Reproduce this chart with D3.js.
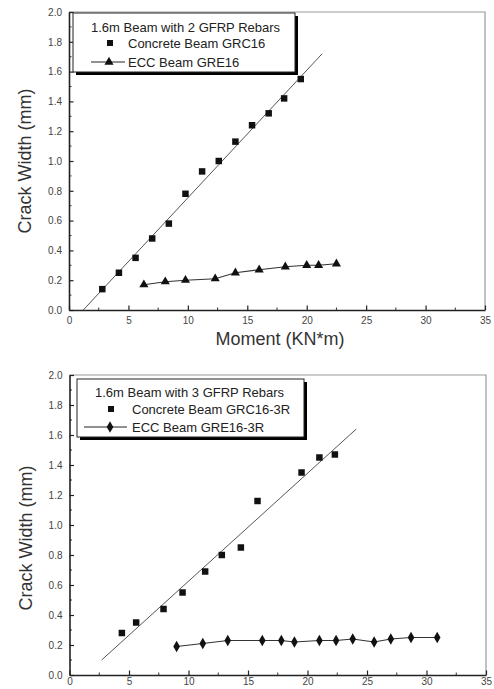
<!DOCTYPE html>
<html><head><meta charset="utf-8">
<script src="https://cdn.jsdelivr.net/npm/d3@7"></script>
<style>
html,body{margin:0;padding:0;background:#fff;}
svg{display:block;font-family:"Liberation Sans",Arial,Helvetica,sans-serif;}
</style></head>
<body>
<script>
// ---- data ----
const xTickValues = [0,5,10,15,20,25,30,35];
const yTickValues = [0.0,0.2,0.4,0.6,0.8,1.0,1.2,1.4,1.6,1.8,2.0];
const xLabel = "Moment (KN*m)";
const yLabel = "Crack Width (mm)";

const topTitle = "1.6m Beam with 2 GFRP Rebars";
const topConcreteName = "Concrete Beam GRC16";
const topEccName = "ECC Beam GRE16";
const topConcreteX = [2.8,4.2,5.6,7.0,8.4,9.8,11.2,12.6,14.0,15.4,16.8,18.1,19.5];
const topConcreteY = [0.14,0.25,0.35,0.48,0.58,0.78,0.93,1.00,1.13,1.24,1.32,1.42,1.55];
const topEccX = [6.3,8.1,9.8,12.3,14.0,16.0,18.2,20.0,21.0,22.5];
const topEccY = [0.17,0.19,0.20,0.21,0.25,0.27,0.29,0.30,0.30,0.31];
const topFitX = [1.2,21.3];
const topFitY = [0.0,1.72];

const botTitle = "1.6m Beam with 3 GFRP Rebars";
const botConcreteName = "Concrete Beam GRC16-3R";
const botEccName = "ECC Beam GRE16-3R";
const botConcreteX = [4.4,5.6,7.9,9.5,11.4,12.8,14.4,15.8,19.5,21.0,22.3];
const botConcreteY = [0.28,0.35,0.44,0.55,0.69,0.80,0.85,1.16,1.35,1.45,1.47];
const botEccX = [9.0,11.2,13.3,16.2,17.8,18.9,21.0,22.4,23.8,25.6,27.0,28.7,30.9];
const botEccY = [0.19,0.21,0.23,0.23,0.23,0.22,0.23,0.23,0.24,0.22,0.24,0.25,0.25];
const botFitX = [2.7,24.1];
const botFitY = [0.10,1.64];

// ---- drawing ----
const W = 494, H = 689;
const svg = d3.select("body").append("svg").attr("width", W).attr("height", H);

function panel(o) {
  const x = d3.scaleLinear().domain([0,35]).range([o.left, o.right]);
  const y = d3.scaleLinear().domain([0,2]).range([o.bottom, o.top]);
  const g = svg.append("g");

  // frame top/right (light)
  g.append("path")
    .attr("d", `M${o.left},${o.top}H${o.right}V${o.bottom}`)
    .attr("fill","none").attr("stroke","#9a9a9a").attr("stroke-width",1.2);

  // minor ticks
  const xMinor = d3.range(2.5, 35, 5);
  const yMinor = d3.range(0.1, 2.0, 0.2);
  g.selectAll(".xm").data(xMinor).join("line")
    .attr("x1", d=>x(d)).attr("x2", d=>x(d))
    .attr("y1", o.bottom).attr("y2", o.bottom-2.5)
    .attr("stroke","#333").attr("stroke-width",1);
  g.selectAll(".ym").data(yMinor).join("line")
    .attr("x1", o.left).attr("x2", o.left+2.5)
    .attr("y1", d=>y(d)).attr("y2", d=>y(d))
    .attr("stroke","#333").attr("stroke-width",1);

  const xa = g.append("g").attr("transform",`translate(0,${o.bottom})`)
    .call(d3.axisBottom(x).tickValues(xTickValues).tickSize(-4.5).tickPadding(o.xPad).tickSizeOuter(0).tickFormat(d3.format("d")));
  const ya = g.append("g").attr("transform",`translate(${o.left},0)`)
    .call(d3.axisLeft(y).tickValues(yTickValues).tickSize(-4.5).tickPadding(7).tickSizeOuter(0).tickFormat(d3.format(".1f")));
  [xa, ya].forEach(a => {
    a.select(".domain").attr("stroke","#222").attr("stroke-width",1.6);
    a.selectAll(".tick line").attr("stroke","#222").attr("stroke-width",1.2);
    a.selectAll(".tick text").attr("fill","#444").style("font-size","10px");
  });

  // y label
  g.append("text")
    .attr("transform",`translate(${o.yLabelX},${o.yLabelY}) rotate(-90)`)
    .attr("text-anchor","middle").attr("fill","#333")
    .style("font-size","18px").text(yLabel);
  if (o.showXLabel) {
    g.append("text").attr("x", (o.left+o.right)/2 + 3).attr("y", o.bottom + 35)
      .attr("text-anchor","middle").attr("fill","#333")
      .style("font-size","18px").text(xLabel);
  }

  // fit line
  g.append("line")
    .attr("x1", x(o.fitX[0])).attr("y1", y(o.fitY[0]))
    .attr("x2", x(o.fitX[1])).attr("y2", y(o.fitY[1]))
    .attr("stroke","#555").attr("stroke-width",1);

  // ECC line
  const eccPts = o.eccX.map((v,i)=>[v, o.eccY[i]]);
  g.append("path").datum(eccPts)
    .attr("d", d3.line().x(d=>x(d[0])).y(d=>y(d[1])))
    .attr("fill","none").attr("stroke","#333").attr("stroke-width",1.1);
  g.selectAll(".ecc").data(eccPts).join("path")
    .attr("transform", d=>`translate(${x(d[0])},${y(d[1])})`)
    .attr("d", d3.symbol().type(o.eccSymbol).size(o.eccSize))
    .attr("fill","#111");

  // concrete squares
  const cPts = o.cX.map((v,i)=>[v, o.cY[i]]);
  g.selectAll(".conc").data(cPts).join("path")
    .attr("transform", d=>`translate(${x(d[0])},${y(d[1])})`)
    .attr("d", d3.symbol().type(d3.symbolSquare).size(42))
    .attr("fill","#111");

  // legend
  const L = o.legend;
  g.append("rect").attr("x", L.x+3).attr("y", L.y+3).attr("width", L.w).attr("height", L.h).attr("fill","#000");
  g.append("rect").attr("x", L.x).attr("y", L.y).attr("width", L.w).attr("height", L.h)
    .attr("fill","#fff").attr("stroke","#222").attr("stroke-width",1);
  g.append("text").attr("x", L.x+L.titleDx).attr("y", L.y+L.r1).attr("fill","#222")
    .style("font-size","13px").text(o.title);
  g.append("path")
    .attr("transform", `translate(${L.x+L.symDx},${L.y+L.r2-4.5})`)
    .attr("d", d3.symbol().type(d3.symbolSquare).size(36)).attr("fill","#111");
  g.append("text").attr("x", L.x+L.textDx).attr("y", L.y+L.r2).attr("fill","#222")
    .style("font-size","13px").text(o.cName);
  g.append("line").attr("x1", L.x+L.lineX1).attr("x2", L.x+L.lineX2)
    .attr("y1", L.y+L.r3-4.5).attr("y2", L.y+L.r3-4.5).attr("stroke","#222").attr("stroke-width",1);
  g.append("path")
    .attr("transform", `translate(${L.x+L.symDx-1},${L.y+L.r3-4.5})`)
    .attr("d", d3.symbol().type(o.eccSymbol).size(o.eccSize)).attr("fill","#111");
  g.append("text").attr("x", L.x+L.textDx).attr("y", L.y+L.r3).attr("fill","#222")
    .style("font-size","13px").text(o.eName);
}

panel({
  left:69, right:485, top:12, bottom:310, xPad:7,
  yLabelX:31, yLabelY:161, showXLabel:true,
  fitX:topFitX, fitY:topFitY, eccX:topEccX, eccY:topEccY,
  cX:topConcreteX, cY:topConcreteY,
  eccSymbol:d3.symbolTriangle, eccSize:36,
  title:topTitle, cName:topConcreteName, eName:topEccName,
  legend:{x:73, y:13, w:222, h:59, r1:18.5, r2:34.5, r3:53.5, titleDx:18, symDx:37, textDx:55, lineX1:18, lineX2:52}
});

panel({
  left:69.5, right:486, top:375, bottom:675, xPad:3,
  yLabelX:32, yLabelY:538, showXLabel:false,
  fitX:botFitX, fitY:botFitY, eccX:botEccX, eccY:botEccY,
  cX:botConcreteX, cY:botConcreteY,
  eccSymbol:d3.symbolDiamond, eccSize:38,
  title:botTitle, cName:botConcreteName, eName:botEccName,
  legend:{x:77, y:379, w:227, h:58, r1:17.5, r2:34.5, r3:52.5, titleDx:18, symDx:34, textDx:55, lineX1:7, lineX2:50}
});
</script>
</body></html>
